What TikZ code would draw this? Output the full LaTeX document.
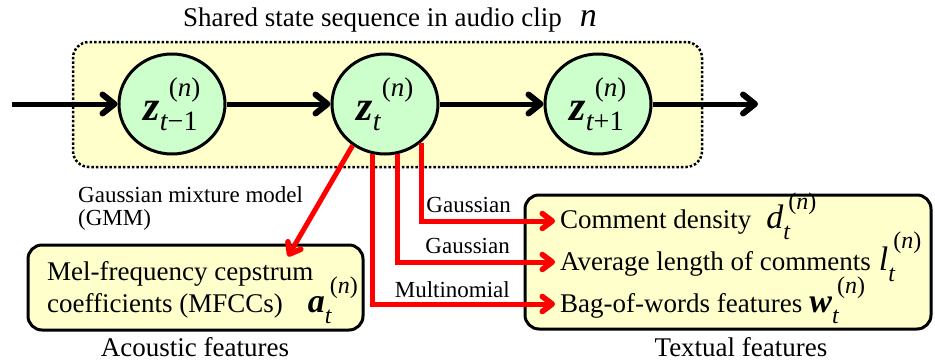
\documentclass[tikz,border=0pt]{standalone}
\usepackage{fontspec}
\setmainfont{Liberation Serif}
\usetikzlibrary{arrows.meta,shapes.geometric,calc}
\definecolor{boxyellow}{HTML}{FFFFCC}
\definecolor{nodegreen}{HTML}{CCFFCC}
\definecolor{obsred}{HTML}{FF0000}
% base, sub, sup, sup raise, sub lower, sup kern
\newcommand{\ssym}[6]{#1\ooalign{\kern#6\raisebox{#4}{#3}\cr\raisebox{-#5}{#2}\cr}}
\newcommand{\supN}[1]{{\fontsize{#1}{#1}\selectfont(\itshape n\/\upshape)}}
\newcommand{\subT}[2]{{\fontsize{#1}{#1}\selectfont\itshape t\upshape #2}}
\newcommand{\zsym}[1]{\ssym{{\fontsize{42}{42}\selectfont\bfseries\itshape z}}{\subT{28}{#1}}{\supN{27}}{24pt}{10pt}{9pt}}
\newcommand{\fsym}[2]{\ssym{{\fontsize{34}{34}\selectfont #1}}{\subT{24}{}}{\supN{24}}{#2}{11pt}{5pt}}
\begin{document}
\begin{tikzpicture}[x=1pt,y=-1pt,
  state/.style={ellipse, draw, line width=3pt, fill=nodegreen, minimum width=106pt, minimum height=100pt, inner sep=0pt},
  flow/.style={line width=5pt, -{Straight Barb[length=12pt,width=19pt,line width=6pt,round]}},
  obs/.style={line width=5pt, draw=obsred, -{Straight Barb[length=10pt,width=15pt,line width=5.5pt,round]}},
  featbox/.style={draw, line width=3pt, fill=boxyellow, rounded corners=14pt, inner sep=0pt},
  plate/.style={draw, line width=2.5pt, dotted, fill=boxyellow, rounded corners=16pt, inner sep=0pt},
  lbl/.style={font=\fontsize{23}{23}\selectfont, inner sep=0pt},
  txt/.style={font=\fontsize{27}{30}\selectfont, inner sep=0pt}]
\useasboundingbox (0,0) rectangle (935,364);

% title and plate
\node[txt, anchor=base west] (title) at (183,27) {Shared state sequence in audio clip\hspace{18pt}{\fontsize{34}{34}\selectfont\itshape n}};
\node[plate, minimum width=629pt, minimum height=125pt] (plate) at (387.5,104.5) {};

% states
\node[state] (c1) at (172,104) {\zsym{−1}};
\node[state] (c2) at (385,104) {\zsym{}};
\node[state] (c3) at (598,104) {\zsym{+1}};
\coordinate (in) at (12,104);
\coordinate (out) at (758,104);
\draw[flow] (in) -- (c1);
\draw[flow] (c1) -- (c2);
\draw[flow] (c2) -- (c3);
\draw[flow] (c3) -- (out);

% feature boxes
\node[featbox, minimum width=335pt, minimum height=85pt] (acou) at (195.5,287.5) {};
\node[featbox, minimum width=406pt, minimum height=134pt] (text) at (728,262) {};

\node[txt, anchor=base west] (mel) at (47,280) {Mel-frequency cepstrum};
\node[txt, anchor=base west] (coef) at (47,312) {coefficients (MFCCs)\hspace{25pt}\fsym{\bfseries\itshape a}{19pt}};
\node[txt, anchor=base west] (dens) at (560,228) {Comment density\hspace{15pt}\fsym{\itshape d}{19pt}};
\node[txt, anchor=base west] (avg) at (560,270) {Average length of comments\hspace{8pt}\fsym{\itshape l}{22pt}};
\node[txt, anchor=base west] (bow) at (560,312) {Bag-of-words features\hspace{7pt}\fsym{\bfseries\itshape w}{19pt}};

\node[txt, anchor=base] (acl) at (195,356) {Acoustic features};
\node[txt, anchor=base] (tcl) at (741,356) {Textual features};

% labels
\node[lbl, anchor=base west] (gmm1) at (78,202) {Gaussian mixture model};
\node[lbl, anchor=base west] (gmm2) at (78,225) {(GMM)};
\node[lbl, anchor=base east] (g1) at (511,212) {Gaussian};
\node[lbl, anchor=base east] (g2) at (510,253) {Gaussian};
\node[lbl, anchor=base east] (mn) at (510,297) {Multinomial};

% observation links
\draw[obs] (c2.-128) -- ($(acou.north)+(92.5,13)$);
\draw[obs] (c2.-47) |- ($(dens.base west)+(-5,-7)$);
\draw[obs] (c2.-76) |- ($(avg.base west)+(-5,-8)$);
\draw[obs] (c2.-104) |- ($(bow.base west)+(-5,-8)$);
\end{tikzpicture}
\end{document}
